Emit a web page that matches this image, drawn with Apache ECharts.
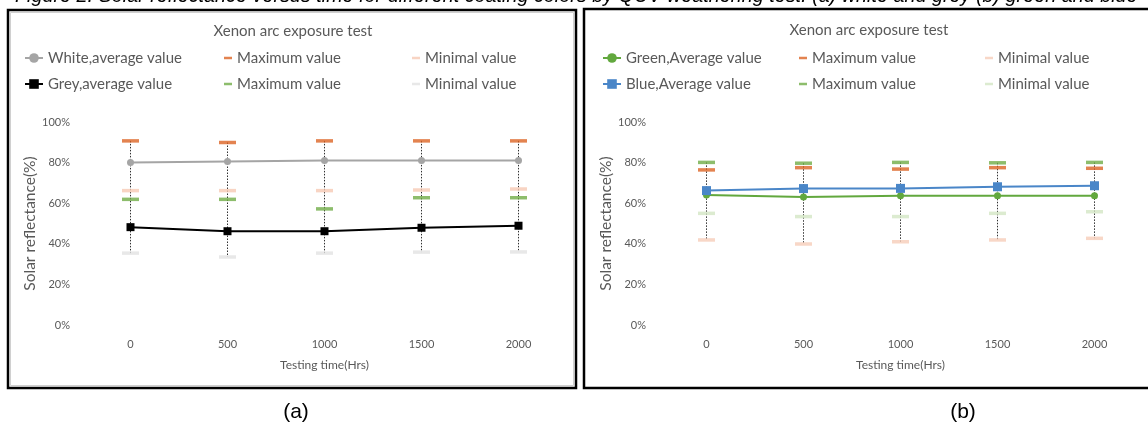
<!DOCTYPE html>
<html>
<head>
<meta charset="utf-8">
<script src="https://cdn.jsdelivr.net/npm/echarts@6/dist/echarts.min.js"></script>
<style>
html,body{margin:0;padding:0;background:#fff;}
#c{width:1148px;height:426px;}
</style>
</head>
<body>
<div id="c"></div>
<script>
const categories = ['0', '500', '1000', '1500', '2000'];
const yTicks = [0, 20, 40, 60, 80, 100];

// Panel (a)
const whiteAvg = [80.0, 80.5, 81.0, 81.0, 81.0];
const whiteMax = [90.7, 89.9, 90.7, 90.7, 90.7];
const whiteMin = [66.2, 66.2, 66.2, 66.5, 67.0];
const greyAvg  = [48.2, 46.2, 46.2, 47.9, 48.9];
const greyMax  = [61.9, 61.9, 57.2, 62.7, 62.7];
const greyMin  = [35.4, 33.5, 35.4, 35.9, 36.0];

// Panel (b)
const greenAvg = [64.0, 63.1, 63.7, 63.7, 63.7];
const greenMax = [76.4, 77.5, 76.8, 77.5, 77.2];
const greenMin = [41.9, 39.9, 41.0, 41.9, 42.7];
const blueAvg  = [66.2, 67.2, 67.3, 68.1, 68.6];
const blueMax  = [80.1, 79.7, 80.1, 79.9, 80.1];
const blueMin  = [55.0, 53.4, 53.4, 55.0, 55.8];

const chartTitle = 'Xenon arc exposure test';
const xName = 'Testing time(Hrs)';
const yName = 'Solar reflectance(%)';
const caption = 'Figure 2. Solar reflectance versus time for different coating colors by QUV weathering test: (a) white and grey (b) green and blue';

const FONT = 'Lato';
const TXT = '#595959';
const ORANGE = '#dc6424';
const GREEN = '#70ad47';

const legendNames = {
  'White max': 'Maximum value', 'Grey max': 'Maximum value',
  'White min': 'Minimal value', 'Grey min': 'Minimal value',
  'Green max': 'Maximum value', 'Blue max': 'Maximum value',
  'Green min': 'Minimal value', 'Blue min': 'Minimal value'
};

function hiLo(arrs) {
  return categories.map((c, i) => {
    const vals = arrs.map(a => a[i]);
    return [i, Math.max(...vals), Math.min(...vals)];
  });
}

function hiLoSeries(idx, arrs) {
  return {
    type: 'custom', xAxisIndex: idx, yAxisIndex: idx, z: 1, silent: true,
    data: hiLo(arrs),
    renderItem: function (params, api) {
      const p1 = api.coord([api.value(0), api.value(1)]);
      const p2 = api.coord([api.value(0), api.value(2)]);
      return {
        type: 'line',
        shape: { x1: p1[0], y1: p1[1], x2: p2[0], y2: p2[1] },
        style: { stroke: '#303030', lineWidth: 1, lineDash: [1.5, 1.5] }
      };
    }
  };
}

function avgSeries(idx, name, data, color, symbol, size) {
  return {
    type: 'line', name: name, xAxisIndex: idx, yAxisIndex: idx, data: data, z: 3,
    symbol: symbol, symbolSize: size, showSymbol: true,
    lineStyle: { color: color, width: 2 },
    itemStyle: { color: color }
  };
}

function dashSeries(idx, name, data, color) {
  return {
    type: 'scatter', name: name, xAxisIndex: idx, yAxisIndex: idx, data: data, z: 4,
    symbol: 'rect', symbolSize: [17, 3.5],
    itemStyle: { color: color }
  };
}

function legend(left, names, icon, itemWidth) {
  return {
    left: left, top: 49, orient: 'vertical', padding: 0, itemGap: 8,
    itemWidth: itemWidth, itemHeight: icon ? 2.5 : 12,
    selectedMode: false,
    data: names.map(n => icon ? { name: n, icon: icon } : { name: n }),
    formatter: n => legendNames[n] || n,
    textStyle: { fontFamily: FONT, fontSize: 15, color: TXT, lineHeight: 18 }
  };
}

function xAxis(idx) {
  return {
    type: 'category', gridIndex: idx, data: categories, boundaryGap: true,
    axisLine: { show: false }, axisTick: { show: false },
    axisLabel: { fontFamily: FONT, fontSize: 11, color: TXT, margin: 14 },
    name: xName, nameLocation: 'middle', nameGap: 34,
    nameTextStyle: { fontFamily: FONT, fontSize: 12, color: TXT }
  };
}

function yAxis(idx) {
  return {
    type: 'value', gridIndex: idx, min: yTicks[0], max: yTicks[yTicks.length - 1], interval: 20,
    axisLine: { show: false }, axisTick: { show: false }, splitLine: { show: false },
    axisLabel: { fontFamily: FONT, fontSize: 11, color: TXT, margin: 12, formatter: '{value}%' },
    name: yName, nameLocation: 'middle', nameGap: 43, nameRotate: 90,
    nameTextStyle: { fontFamily: FONT, fontSize: 15.5, color: TXT }
  };
}

const chart = echarts.init(document.getElementById('c'), null, { renderer: 'canvas' });
chart.setOption({
  backgroundColor: '#fff',
  animation: false,
  grid: [
    { left: 82, top: 122, width: 485, height: 203 },
    { left: 658, top: 122, width: 485, height: 203 }
  ],
  xAxis: [xAxis(0), xAxis(1)],
  yAxis: [yAxis(0), yAxis(1)],
  legend: [
    legend(24, ['White,average value', 'Grey,average value'], null, 18),
    legend(224, ['White max', 'Grey max'], 'rect', 8),
    legend(412, ['White min', 'Grey min'], 'rect', 8),
    legend(602, ['Green,Average value', 'Blue,Average value'], null, 18),
    legend(799, ['Green max', 'Blue max'], 'rect', 8),
    legend(985, ['Green min', 'Blue min'], 'rect', 8)
  ],
  graphic: [
    { type: 'rect', shape: { x: 8, y: 10, width: 568, height: 378 }, style: { fill: null, stroke: '#000', lineWidth: 2.5 } },
    { type: 'rect', shape: { x: 10.5, y: 12.5, width: 563, height: 373 }, style: { fill: null, stroke: '#d0d0d0', lineWidth: 1 } },
    { type: 'rect', shape: { x: 584, y: 9, width: 570, height: 379 }, style: { fill: null, stroke: '#000', lineWidth: 2.5 } },
    { type: 'text', x: 15, y: 6, style: { text: caption, font: 'italic 19.8px "Liberation Sans"', fill: '#000', textVerticalAlign: 'bottom' } },
    { type: 'text', x: 293, y: 31, style: { text: chartTitle, font: '15px Lato', fill: TXT, textAlign: 'center', textVerticalAlign: 'middle' } },
    { type: 'text', x: 869, y: 30, style: { text: chartTitle, font: '15px Lato', fill: TXT, textAlign: 'center', textVerticalAlign: 'middle' } },
    { type: 'text', x: 296, y: 412, style: { text: '(a)', font: '21px "Liberation Sans"', fill: '#000', textAlign: 'center', textVerticalAlign: 'middle' } },
    { type: 'text', x: 963, y: 412, style: { text: '(b)', font: '21px "Liberation Sans"', fill: '#000', textAlign: 'center', textVerticalAlign: 'middle' } }
  ],
  series: [
    hiLoSeries(0, [whiteMax, whiteMin, greyMax, greyMin]),
    avgSeries(0, 'White,average value', whiteAvg, '#a5a5a5', 'circle', 7),
    avgSeries(0, 'Grey,average value', greyAvg, '#000000', 'rect', 8),
    dashSeries(0, 'White max', whiteMax, ORANGE),
    dashSeries(0, 'Grey max', greyMax, GREEN),
    dashSeries(0, 'White min', whiteMin, '#f6c9b4'),
    dashSeries(0, 'Grey min', greyMin, '#e2e2e2'),

    hiLoSeries(1, [greenMax, greenMin, blueMax, blueMin]),
    avgSeries(1, 'Green,Average value', greenAvg, '#62a83e', 'circle', 7),
    avgSeries(1, 'Blue,Average value', blueAvg, '#4a86c8', 'rect', 9),
    dashSeries(1, 'Green max', greenMax, ORANGE),
    dashSeries(1, 'Blue max', blueMax, GREEN),
    dashSeries(1, 'Green min', greenMin, '#f6cdb9'),
    dashSeries(1, 'Blue min', blueMin, '#d3e6c4')
  ]
});
</script>
</body>
</html>
